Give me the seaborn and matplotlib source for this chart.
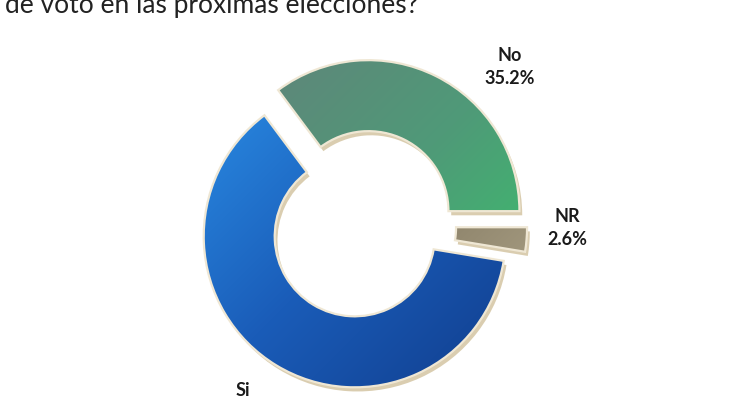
import numpy as np
import matplotlib
import matplotlib.pyplot as plt
import matplotlib.patheffects as pe
from matplotlib.patches import Wedge
from matplotlib.colors import LinearSegmentedColormap
import seaborn as sns

sns.set_theme(style="white")
plt.rcParams['font.family'] = ['Lato', 'DejaVu Sans']

# data
labels = ['No', 'Si', 'NR']
values = [35.2, 62.2, 2.6]
title = "de voto en las próximas elecciones?"

# style
radius = 151
explode = [0.11, 0.08, 0.10]   # fraction of radius
shades = {
    'No': ['#62827a', '#4f9a78', '#38c46a'],
    'Si': ['#2a8ce4', '#1a5cb8', '#113e8e'],
    'NR': ['#5a5240', '#857b63', '#b3a98e'],
}

fig = plt.figure(figsize=(7.35, 4), dpi=100)
ax = fig.add_axes([0, 0, 1, 1])

wedges, _ = ax.pie(
    values, startangle=0, counterclock=True,
    explode=[e * radius for e in explode],
    radius=radius, center=(361, 174),
    wedgeprops=dict(width=71, linewidth=0))

for w, lab in zip(wedges, labels):
    cx, cy = w.center
    r = w.r
    w.set_facecolor(shades[lab][1])
    w.set_zorder(1)
    w.set_path_effects([pe.SimplePatchShadow(offset=(2, -3), shadow_rgbFace='#cbb98f', alpha=0.7),
                        pe.Normal()])
    # diagonal gradient clipped to the wedge
    xx, yy = np.meshgrid(np.linspace(0, 1, 200), np.linspace(0, 1, 200))
    grad = (xx + (1 - yy)) / 2
    cmap = LinearSegmentedColormap.from_list(lab, shades[lab])
    img = ax.imshow(grad, cmap=cmap, extent=(cx - r, cx + r, cy - r, cy + r),
                    origin='lower', aspect='auto', interpolation='bicubic', zorder=2)
    img.set_clip_path(w)
    ax.add_patch(Wedge((cx, cy), r, w.theta1, w.theta2, width=w.width, fill=False,
                       edgecolor='#efe7d4', linewidth=1.6, zorder=3))

# labels
ax.text(510, 333, f"{labels[0]}\n{values[0]}%", ha='center', va='center', fontsize=13,
        fontweight='bold', color='#1a1a1a', linespacing=1.4)
ax.text(567, 172, f"{labels[2]}\n{values[2]}%", ha='center', va='center', fontsize=13,
        fontweight='bold', color='#1a1a1a', linespacing=1.4)
ax.text(243, 10, labels[1], ha='center', va='center', fontsize=13,
        fontweight='bold', color='#1a1a1a')

ax.text(5, 387, title, ha='left', va='baseline', fontsize=19, color='#222222')

ax.set_xlim(0, 735)
ax.set_ylim(0, 400)
ax.set_aspect('equal')
ax.axis('off')

fig.savefig('out.png', dpi=100)
